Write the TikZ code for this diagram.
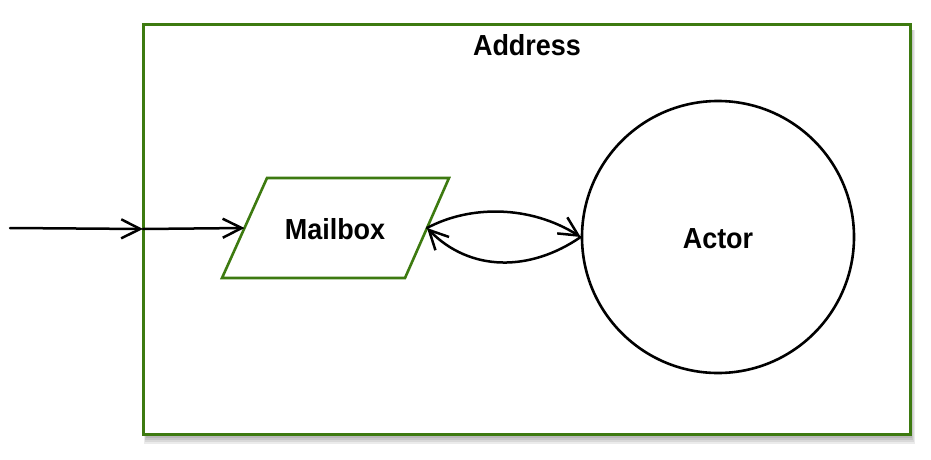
\documentclass[tikz,border=0pt]{standalone}
\usepackage{fontspec}
\setmainfont{Liberation Sans}[FakeStretch=0.93]
\usetikzlibrary{arrows.meta}
\definecolor{boxgreen}{HTML}{3D7A10}
\begin{document}
\begin{tikzpicture}[x=1pt,y=-1pt,
  lbl/.style={font=\fontsize{29}{32}\selectfont\bfseries, inner sep=0pt},
  conn/.style={draw=black, line width=2.5pt, line cap=round, -{Straight Barb[length=19pt,width=19pt]}},
  shadowbox/.style={fill=black, draw=none, opacity=0.08}]
\useasboundingbox (0,0) rectangle (931,460);
% shadow of the Address box
\fill[shadowbox] (144,30) rectangle (915,444);
\fill[shadowbox] (145,30) rectangle (914,442);
\fill[shadowbox] (145,30) rectangle (913,440);
\fill[shadowbox] (146,30) rectangle (912,438);
% Address box
\draw[boxgreen, line width=3pt, fill=white] (143,25) rectangle (910,434);
\node[lbl] (address) at (527,45) {Address};
% Mailbox parallelogram
\draw[boxgreen, line width=2.6pt, fill=white, line join=miter]
  (267,178) -- (449,178) -- (405,278) -- (222,278) -- cycle;
\node[lbl] (mailbox) at (335,229) {Mailbox};
\coordinate (mbL) at (244.5,228);
\coordinate (mbR) at (427,228);
% Actor circle
\node[draw=black, line width=2.6pt, circle, minimum size=272pt, inner sep=0pt] (actorc) at (718,237) {};
\node[lbl] (actor) at (718,239) {Actor};
% connectors
\coordinate (src) at (10,228);
\coordinate (edge) at (143,229);
\draw[conn] (src) -- (edge);
\draw[conn] (edge) -- (mbL);
\draw[conn] (mbR) .. controls (470,205) and (530,205) .. (actorc.west);
\draw[conn] (actorc.west) .. controls (530,272) and (470,272) .. (mbR);
\end{tikzpicture}
\end{document}
